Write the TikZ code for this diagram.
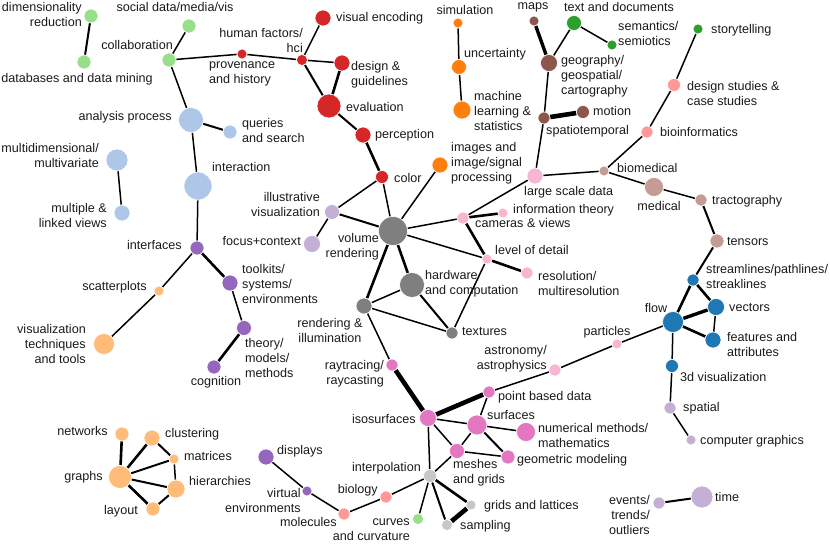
\documentclass[tikz,border=0pt]{standalone}
\usepackage{fontspec}
\setmainfont{Liberation Sans}
\usetikzlibrary{backgrounds}
\definecolor{cred}{HTML}{D62728}
\definecolor{clgreen}{HTML}{98DF8A}
\definecolor{cgreen}{HTML}{2CA02C}
\definecolor{clblue}{HTML}{AEC7E8}
\definecolor{cblue}{HTML}{1F77B4}
\definecolor{corange}{HTML}{FF7F0E}
\definecolor{clorange}{HTML}{FFBB78}
\definecolor{cpurple}{HTML}{9467BD}
\definecolor{clpurple}{HTML}{C5B0D5}
\definecolor{cbrown}{HTML}{8C564B}
\definecolor{clbrown}{HTML}{C49C94}
\definecolor{cpink}{HTML}{E377C2}
\definecolor{clpink}{HTML}{F7B6D2}
\definecolor{cgray}{HTML}{7F7F7F}
\definecolor{clgray}{HTML}{C7C7C7}
\definecolor{csalmon}{HTML}{FF9896}
\definecolor{ctext}{HTML}{1A1A1A}
\newcommand\nd[5]{\node[dot,minimum size=#4pt,fill=#5] (#1) at (#2,#3) {};}
\tikzset{
  dot/.style={circle,inner sep=0pt,draw=white,line width=0.6pt},
  lab/.style={inner sep=0pt,text=ctext,font=\fontsize{12.6}{15}\selectfont},
  e1/.style={line width=1.5pt},
  e2/.style={line width=2pt},
  e3/.style={line width=2.6pt},
  e4/.style={line width=3.4pt},
  e5/.style={line width=4.6pt},
}
\begin{document}
\begin{tikzpicture}[x=1pt,y=-1pt]
\useasboundingbox (0,0) rectangle (830,545);
% nodes
\nd{dimred}{91}{16}{14}{clgreen}
\nd{dbmining}{84}{62}{14}{clgreen}
\nd{socialdata}{189}{26}{14}{clgreen}
\nd{collab}{169}{60}{14}{clgreen}
\nd{provenance}{242}{54}{10}{cred}
\nd{hci}{302}{60}{11}{cred}
\nd{visenc}{323}{18}{16}{cred}
\nd{design}{342}{63}{16}{cred}
\nd{evaluation}{329}{106}{24}{cred}
\nd{perception}{363}{135}{16}{cred}
\nd{color}{382}{177}{13}{cred}
\nd{analysis}{191}{120}{25}{clblue}
\nd{queries}{230}{132}{14}{clblue}
\nd{multidim}{117}{160}{22}{clblue}
\nd{multilinked}{122}{213}{16}{clblue}
\nd{interaction}{198}{186}{28}{clblue}
\nd{interfaces}{197}{248}{14}{cpurple}
\nd{toolkits}{230}{283}{16}{cpurple}
\nd{theory}{244}{328}{15}{cpurple}
\nd{cognition}{214}{367}{14}{cpurple}
\nd{scatter}{159}{291}{10}{clorange}
\nd{vistech}{104}{344}{21}{clorange}
\nd{simulation}{458}{23}{10}{corange}
\nd{uncertainty}{459}{67}{15}{corange}
\nd{ml}{462}{110}{18}{corange}
\nd{images}{440}{165}{16}{corange}
\nd{maps}{534}{21}{10}{cbrown}
\nd{text}{574}{23}{15}{cgreen}
\nd{semantics}{612}{45}{10}{cgreen}
\nd{geography}{549}{63}{17}{cbrown}
\nd{motion}{583}{112}{13}{cbrown}
\nd{spatiotemp}{544}{118}{12}{cbrown}
\nd{largescale}{535}{176}{16}{clpink}
\nd{biomedical}{604}{171}{10}{clbrown}
\nd{storytelling}{698}{29}{10}{cgreen}
\nd{designstudies}{674}{85}{13}{csalmon}
\nd{bioinfo}{647}{132}{12}{csalmon}
\nd{illustrative}{332}{212}{15}{clpurple}
\nd{focus}{312}{244}{17}{clpurple}
\nd{volume}{393}{231}{29}{cgray}
\nd{cameras}{463}{218}{12}{clpink}
\nd{infotheory}{503}{213}{10}{clpink}
\nd{lod}{487}{259}{10}{clpink}
\nd{resolution}{527}{273}{12}{clpink}
\nd{hardware}{412}{285}{25}{cgray}
\nd{rendering}{364}{306}{16}{cgray}
\nd{textures}{452}{333}{12}{cgray}
\nd{medical}{654}{187}{19}{clbrown}
\nd{tracto}{701}{200}{12}{clbrown}
\nd{tensors}{717}{241}{14}{clbrown}
\nd{streamlines}{693}{280}{12}{cblue}
\nd{vectors}{716}{307}{17}{cblue}
\nd{flow}{673}{322}{21}{cblue}
\nd{features}{713}{340}{16}{cblue}
\nd{particles}{617}{344}{10}{clpink}
\nd{threed}{672}{366}{13}{cblue}
\nd{spatial}{670}{408}{12}{clpurple}
\nd{compgraph}{691}{440}{10}{clpurple}
\nd{time}{702}{497}{22}{clpurple}
\nd{events}{659}{503}{12}{clpurple}
\nd{astronomy}{555}{370}{12}{clpink}
\nd{raytracing}{392}{365}{12}{cpink}
\nd{pointbased}{489}{392}{12}{cpink}
\nd{isosurfaces}{428}{418}{17}{cpink}
\nd{surfaces}{477}{425}{20}{cpink}
\nd{numerical}{526}{432}{19}{cpink}
\nd{meshes}{457}{451}{15}{cpink}
\nd{geometric}{508}{457}{14}{cpink}
\nd{interp}{430}{476}{13}{clgray}
\nd{grids}{471}{505}{10}{clgray}
\nd{sampling}{447}{525}{11}{clgray}
\nd{curves}{418}{519}{11}{clgreen}
\nd{biology}{386}{497}{12}{csalmon}
\nd{molecules}{344}{514}{12}{csalmon}
\nd{virtualenv}{307}{491}{10}{cpurple}
\nd{displays}{266}{457}{16}{cpurple}
\nd{networks}{122}{434}{14}{clorange}
\nd{clustering}{152}{438}{16}{clorange}
\nd{matrices}{174}{459}{10}{clorange}
\nd{graphs}{120}{477}{23}{clorange}
\nd{hierarchies}{176}{489}{18}{clorange}
\nd{layout}{153}{509}{14}{clorange}
% edges
\begin{scope}[on background layer]
\draw[e2] (dimred) -- (dbmining);
\draw[e1] (socialdata) -- (collab);
\draw[e1] (collab) -- (provenance);
\draw[e1] (collab) -- (analysis);
\draw[e1] (provenance) -- (hci);
\draw[e1] (hci) -- (visenc);
\draw[e1] (hci) -- (design);
\draw[e2] (hci) -- (evaluation);
\draw[e3] (design) -- (evaluation);
\draw[e2] (evaluation) -- (perception);
\draw[e3] (perception) -- (color);
\draw[e1] (color) -- (volume);
\draw[e2] (analysis) -- (queries);
\draw[e1] (analysis) -- (interaction);
\draw[e1] (multidim) -- (multilinked);
\draw[e1] (interaction) -- (interfaces);
\draw[e1] (interfaces) -- (scatter);
\draw[e1] (scatter) -- (vistech);
\draw[e3] (interfaces) -- (toolkits);
\draw[e1] (toolkits) -- (theory);
\draw[e3] (theory) -- (cognition);
\draw[e1] (illustrative) -- (color);
\draw[e2] (illustrative) -- (volume);
\draw[e1] (illustrative) -- (focus);
\draw[e1] (volume) -- (images);
\draw[e1] (volume) -- (cameras);
\draw[e1] (volume) -- (lod);
\draw[e3] (volume) -- (hardware);
\draw[e3] (volume) -- (rendering);
\draw[e1] (hardware) -- (rendering);
\draw[e2] (hardware) -- (textures);
\draw[e1] (rendering) -- (textures);
\draw[e1] (rendering) -- (raytracing);
\draw[e1] (lod) -- (textures);
\draw[e3] (lod) -- (resolution);
\draw[e3] (cameras) -- (lod);
\draw[e3] (cameras) -- (infotheory);
\draw[e1] (cameras) -- (largescale);
\draw[e1] (largescale) -- (spatiotemp);
\draw[e1] (largescale) -- (biomedical);
\draw[e5] (spatiotemp) -- (motion);
\draw[e1] (spatiotemp) -- (geography);
\draw[e4] (geography) -- (maps);
\draw[e1] (geography) -- (text);
\draw[e1] (text) -- (semantics);
\draw[e1] (simulation) -- (uncertainty);
\draw[e1] (uncertainty) -- (ml);
\draw[e1] (biomedical) -- (bioinfo);
\draw[e1] (bioinfo) -- (designstudies);
\draw[e1] (designstudies) -- (storytelling);
\draw[e1] (biomedical) -- (medical);
\draw[e1] (medical) -- (tracto);
\draw[e2] (tracto) -- (tensors);
\draw[e2] (tensors) -- (streamlines);
\draw[e3] (streamlines) -- (flow);
\draw[e3] (streamlines) -- (vectors);
\draw[e4] (flow) -- (vectors);
\draw[e1] (vectors) -- (features);
\draw[e3] (flow) -- (features);
\draw[e1] (flow) -- (threed);
\draw[e1] (flow) -- (particles);
\draw[e1] (particles) -- (astronomy);
\draw[e1] (astronomy) -- (pointbased);
\draw[e1] (threed) -- (spatial);
\draw[e1] (spatial) -- (compgraph);
\draw[e5] (raytracing) -- (isosurfaces);
\draw[e5] (isosurfaces) -- (pointbased);
\draw[e1] (isosurfaces) -- (surfaces);
\draw[e1] (isosurfaces) -- (meshes);
\draw[e1] (isosurfaces) -- (interp);
\draw[e1] (pointbased) -- (surfaces);
\draw[e1] (surfaces) -- (numerical);
\draw[e1] (surfaces) -- (meshes);
\draw[e2] (surfaces) -- (geometric);
\draw[e1] (meshes) -- (geometric);
\draw[e1] (meshes) -- (interp);
\draw[e1] (interp) -- (biology);
\draw[e1] (biology) -- (molecules);
\draw[e1] (molecules) -- (virtualenv);
\draw[e1] (virtualenv) -- (displays);
\draw[e1] (interp) -- (curves);
\draw[e2] (interp) -- (sampling);
\draw[e3] (interp) -- (grids);
\draw[e5] (grids) -- (sampling);
\draw[e3] (graphs) -- (networks);
\draw[e3] (graphs) -- (clustering);
\draw[e2] (graphs) -- (matrices);
\draw[e2] (graphs) -- (hierarchies);
\draw[e3] (graphs) -- (layout);
\draw[e2] (clustering) -- (matrices);
\draw[e1] (matrices) -- (hierarchies);
\draw[e2] (hierarchies) -- (layout);
\draw[e2] (time) -- (events);
\end{scope}
% labels
\node[lab,anchor=east,align=right] (l-dimred) at (82,15) {dimensionality\\reduction};
\node[lab,anchor=center] (l-social) at (175,7) {social data/media/vis};
\node[lab,anchor=east] (l-collab) at (173,45) {collaboration};
\node[lab,anchor=center] (l-db) at (77,79) {databases and data mining};
\node[lab,anchor=east,align=right] (l-hci) at (303,40) {human factors/\\hci};
\node[lab,anchor=west,align=left] (l-prov) at (209,74) {provenance\\and history};
\node[lab,anchor=west] (l-visenc) at (336,18) {visual encoding};
\node[lab,anchor=west,align=left] (l-design) at (351,75) {design \&\\guidelines};
\node[lab,anchor=west] (l-eval) at (346,107) {evaluation};
\node[lab,anchor=west] (l-perc) at (375,135) {perception};
\node[lab,anchor=west] (l-color) at (394,178) {color};
\node[lab,anchor=east] (l-analysis) at (172,117) {analysis process};
\node[lab,anchor=west,align=left] (l-queries) at (242,130) {queries\\and search};
\node[lab,anchor=east,align=right] (l-multidim) at (99,155) {multidimensional/\\multivariate};
\node[lab,anchor=west] (l-interaction) at (212,167) {interaction};
\node[lab,anchor=east,align=right] (l-multi) at (107,215) {multiple \&\\linked views};
\node[lab,anchor=east] (l-interfaces) at (182,245) {interfaces};
\node[lab,anchor=east] (l-scatter) at (147,287) {scatterplots};
\node[lab,anchor=east,align=right] (l-vistech) at (86,344) {visualization\\techniques\\and tools};
\node[lab,anchor=west,align=left] (l-toolkits) at (242,284) {toolkits/\\systems/\\environments};
\node[lab,anchor=west,align=left] (l-theory) at (245,358) {theory/\\models/\\methods};
\node[lab,anchor=center] (l-cognition) at (216,382) {cognition};
\node[lab,anchor=east,align=right] (l-illus) at (320,204) {illustrative\\visualization};
\node[lab,anchor=east] (l-focus) at (301,241) {focus+context};
\node[lab,anchor=east,align=right] (l-volume) at (379,247) {volume\\rendering};
\node[lab,anchor=west,align=left] (l-hardware) at (425,284) {hardware\\and computation};
\node[lab,anchor=center,align=center] (l-rendering) at (330,330) {rendering \&\\illumination};
\node[lab,anchor=west] (l-textures) at (462,331) {textures};
\node[lab,anchor=west,align=left] (l-images) at (451,163) {images and\\image/signal\\processing};
\node[lab,anchor=center] (l-sim) at (465,10) {simulation};
\node[lab,anchor=west] (l-unc) at (464,54) {uncertainty};
\node[lab,anchor=west,align=left] (l-ml) at (474,111) {machine\\learning \&\\statistics};
\node[lab,anchor=center] (l-maps) at (533,7) {maps};
\node[lab,anchor=center] (l-text) at (619,7) {text and documents};
\node[lab,anchor=west,align=left] (l-sem) at (618,33) {semantics/\\semiotics};
\node[lab,anchor=west] (l-story) at (711,30) {storytelling};
\node[lab,anchor=west,align=left] (l-geo) at (561,76) {geography/\\geospatial/\\cartography};
\node[lab,anchor=west] (l-motion) at (593,111) {motion};
\node[lab,anchor=west] (l-spatio) at (546,131) {spatiotemporal};
\node[lab,anchor=west,align=left] (l-designst) at (687,93) {design studies \&\\case studies};
\node[lab,anchor=west] (l-bioinfo) at (660,132) {bioinformatics};
\node[lab,anchor=west] (l-biomed) at (617,168) {biomedical};
\node[lab,anchor=west] (l-large) at (524,192) {large scale data};
\node[lab,anchor=west] (l-info) at (513,210) {information theory};
\node[lab,anchor=west] (l-cameras) at (475,223) {cameras \& views};
\node[lab,anchor=west] (l-lod) at (495,250) {level of detail};
\node[lab,anchor=west,align=left] (l-res) at (538,283) {resolution/\\multiresolution};
\node[lab,anchor=center] (l-medical) at (659,206) {medical};
\node[lab,anchor=west] (l-tracto) at (712,201) {tractography};
\node[lab,anchor=west] (l-tensors) at (727,241) {tensors};
\node[lab,anchor=west,align=left] (l-stream) at (706,276) {streamlines/pathlines/\\streaklines};
\node[lab,anchor=west] (l-vectors) at (729,307) {vectors};
\node[lab,anchor=center] (l-flow) at (656,308) {flow};
\node[lab,anchor=west,align=left] (l-features) at (727,344) {features and\\attributes};
\node[lab,anchor=center] (l-particles) at (607,332) {particles};
\node[lab,anchor=west] (l-3d) at (680,377) {3d visualization};
\node[lab,anchor=west] (l-spatial) at (683,408) {spatial};
\node[lab,anchor=west] (l-compg) at (700,441) {computer graphics};
\node[lab,anchor=west] (l-time) at (715,497) {time};
\node[lab,anchor=east,align=right] (l-events) at (650,515) {events/\\trends/\\outliers};
\node[lab,anchor=east,align=right] (l-astro) at (547,359) {astronomy/\\astrophysics};
\node[lab,anchor=west] (l-point) at (498,397) {point based data};
\node[lab,anchor=east,align=right] (l-ray) at (384,374) {raytracing/\\raycasting};
\node[lab,anchor=east] (l-iso) at (416,419) {isosurfaces};
\node[lab,anchor=west] (l-surf) at (487,415) {surfaces};
\node[lab,anchor=west,align=left] (l-num) at (538,435) {numerical methods/\\mathematics};
\node[lab,anchor=west] (l-geom) at (517,460) {geometric modeling};
\node[lab,anchor=west,align=left] (l-meshes) at (453,473) {meshes\\and grids};
\node[lab,anchor=east] (l-interp) at (421,468) {interpolation};
\node[lab,anchor=west] (l-grids) at (484,506) {grids and lattices};
\node[lab,anchor=west] (l-sampling) at (460,526) {sampling};
\node[lab,anchor=east,align=right] (l-curves) at (410,530) {curves\\and curvature};
\node[lab,anchor=east] (l-biology) at (378,490) {biology};
\node[lab,anchor=east] (l-molecules) at (337,522) {molecules};
\node[lab,anchor=west] (l-displays) at (277,451) {displays};
\node[lab,anchor=east,align=right] (l-virtual) at (301,500) {virtual\\environments};
\node[lab,anchor=east] (l-networks) at (108,431) {networks};
\node[lab,anchor=west] (l-clustering) at (165,434) {clustering};
\node[lab,anchor=west] (l-matrices) at (184,456) {matrices};
\node[lab,anchor=east] (l-graphs) at (103,477) {graphs};
\node[lab,anchor=west] (l-hier) at (189,481) {hierarchies};
\node[lab,anchor=east] (l-layout) at (138,511) {layout};
\end{tikzpicture}
\end{document}
